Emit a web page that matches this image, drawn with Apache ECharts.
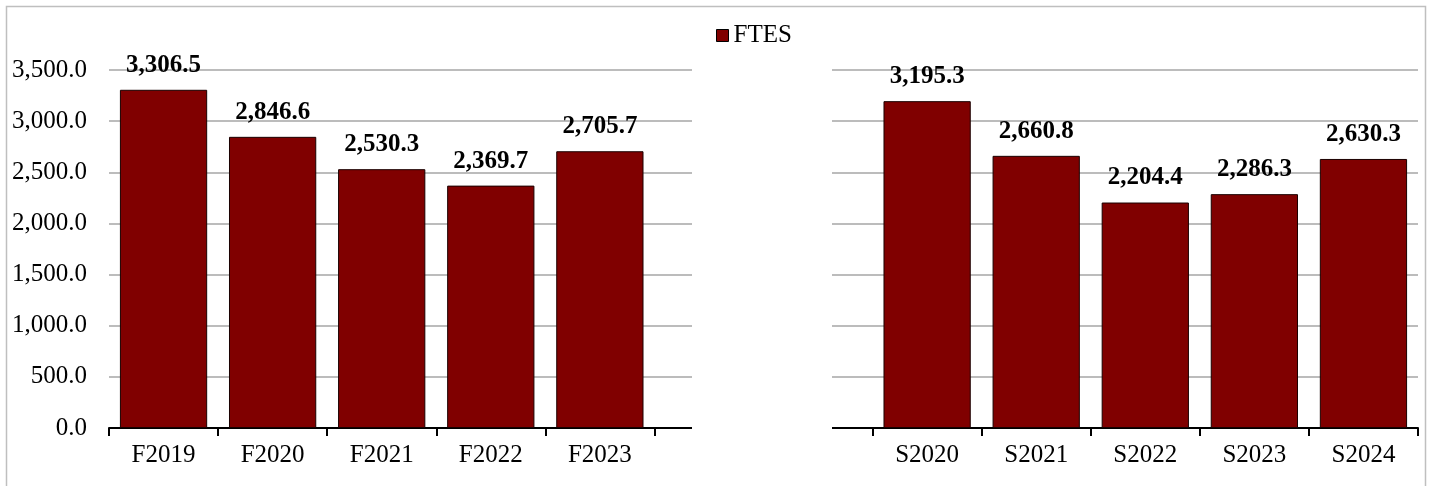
<!DOCTYPE html>
<html>
<head>
<meta charset="utf-8">
<script src="https://cdn.jsdelivr.net/npm/echarts@6/dist/echarts.min.js"></script>
<style>html,body{margin:0;padding:0;background:#fff;}#c{width:1434px;height:486px;}</style>
</head>
<body>
<div id="c"></div>
<script>
const fallCategories = ['F2019', 'F2020', 'F2021', 'F2022', 'F2023'];
const fallValues = [3306.5, 2846.6, 2530.3, 2369.7, 2705.7];
const springCategories = ['S2020', 'S2021', 'S2022', 'S2023', 'S2024'];
const springValues = [3195.3, 2660.8, 2204.4, 2286.3, 2630.3];
const gapCategories = ['', ' '];
const seriesName = 'FTES';
const yTicks = { min: 0, max: 3500, interval: 500 };

const categories = [...fallCategories, ...gapCategories, ...springCategories];
const values = [...fallValues, ...gapCategories.map(() => null), ...springValues];

const fmt = v => Number(v).toLocaleString('en-US', { minimumFractionDigits: 1, maximumFractionDigits: 1 });
const FONT = '"Liberation Serif", "Times New Roman", serif';

const chart = echarts.init(document.getElementById('c'), null, { renderer: 'canvas' });
chart.setOption({
  animation: false,
  backgroundColor: '#ffffff',
  textStyle: { fontFamily: FONT },
  legend: {
    data: [seriesName],
    left: 711, top: 18,
    icon: 'rect', itemWidth: 12, itemHeight: 12, itemGap: 6,
    itemStyle: { borderColor: '#000', borderWidth: 1 },
    textStyle: { fontFamily: FONT, fontSize: 25, color: '#000' }
  },
  grid: { left: 109, right: 16, top: 70, bottom: 58, containLabel: false },
  xAxis: {
    type: 'category',
    data: categories,
    boundaryGap: true,
    axisLine: { show: true, lineStyle: { color: '#000', width: 2 } },
    axisTick: { show: true, length: 8, lineStyle: { color: '#000', width: 2 }, interval: 0 },
    axisLabel: { interval: 0, fontFamily: FONT, fontSize: 25, color: '#000', margin: 15 },
    splitLine: { show: false }
  },
  yAxis: {
    type: 'value',
    min: yTicks.min, max: yTicks.max, interval: yTicks.interval,
    axisLine: { show: false },
    axisTick: { show: false },
    axisLabel: { fontFamily: FONT, fontSize: 25, color: '#000', margin: 22, formatter: fmt },
    splitLine: { show: true, lineStyle: { color: '#a6a6a6', width: 1.5 } }
  },
  series: [{
    name: seriesName,
    type: 'bar',
    data: values,
    barCategoryGap: '20%',
    itemStyle: { color: '#800000', borderColor: '#1a0000', borderWidth: 1 },
    label: {
      show: true, position: 'top', distance: 12,
      fontFamily: FONT, fontSize: 25, fontWeight: 'bold', color: '#000',
      formatter: p => fmt(p.value)
    }
  }],
  graphic: [
    { type: 'rect', z: 100, silent: true,
      shape: { x: 692, y: 60, width: 140, height: 392 },
      style: { fill: '#ffffff' } },
    { type: 'rect', z: 101, silent: true,
      shape: { x: 6.5, y: 6.5, width: 1419, height: 500 },
      style: { fill: 'none', stroke: '#bfbfbf', lineWidth: 1.5 } }
  ]
});
</script>
</body>
</html>
